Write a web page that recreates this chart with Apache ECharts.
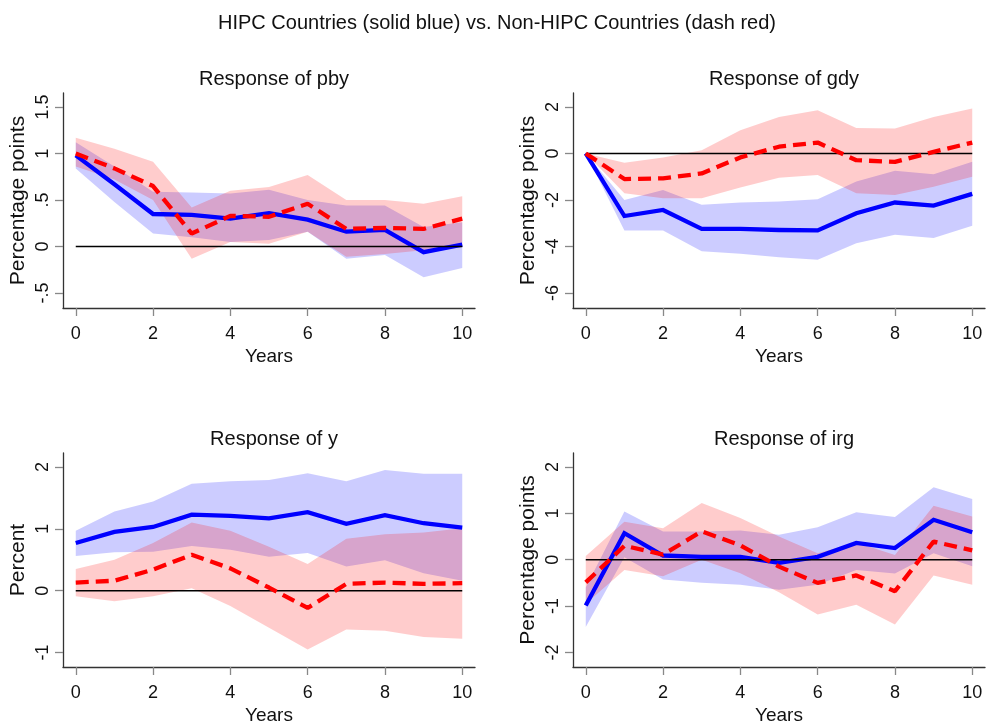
<!DOCTYPE html>
<html>
<head>
<meta charset="utf-8">
<title>HIPC vs Non-HIPC</title>
<script src="https://cdn.jsdelivr.net/npm/echarts@6/dist/echarts.min.js"></script>
<style>
    html, body { margin: 0; padding: 0; background: #fff; }
    #chart { width: 994px; height: 728px; }
</style>
</head>
<body>
<div id="chart"></div>
<script>
var years = [0, 1, 2, 3, 4, 5, 6, 7, 8, 9, 10];
var xTicks = [0, 2, 4, 6, 8, 10];

// pby
var pbyBlue   = [0.98, 0.67, 0.35, 0.34, 0.30, 0.36, 0.29, 0.16, 0.18, -0.06, 0.02];
var pbyBlueLo = [0.84, 0.48, 0.14, 0.10, 0.05, 0.07, 0.16, -0.13, -0.09, -0.33, -0.23];
var pbyBlueHi = [1.12, 0.86, 0.59, 0.58, 0.57, 0.61, 0.50, 0.44, 0.44, 0.21, 0.26];
var pbyRed    = [1.00, 0.84, 0.65, 0.14, 0.33, 0.32, 0.46, 0.19, 0.20, 0.19, 0.30];
var pbyRedLo  = [0.86, 0.72, 0.50, -0.13, 0.05, 0.03, 0.16, -0.11, -0.08, -0.04, 0.00];
var pbyRedHi  = [1.17, 1.05, 0.91, 0.42, 0.60, 0.64, 0.77, 0.50, 0.50, 0.46, 0.54];
var pbyTicks  = [-0.5, 0, 0.5, 1, 1.5];

// gdy
var gdyBlue   = [0, -2.69, -2.43, -3.24, -3.24, -3.29, -3.31, -2.57, -2.11, -2.24, -1.74];
var gdyBlueLo = [0, -3.31, -3.31, -4.21, -4.31, -4.46, -4.57, -3.86, -3.50, -3.64, -3.11];
var gdyBlueHi = [0, -2.00, -1.57, -2.21, -2.11, -2.07, -1.97, -1.21, -0.74, -0.89, -0.36];
var gdyRed    = [0, -1.10, -1.07, -0.86, -0.17, 0.29, 0.47, -0.29, -0.36, 0.07, 0.47];
var gdyRedLo  = [0, -1.71, -1.93, -1.93, -1.46, -1.04, -0.93, -1.71, -1.79, -1.43, -1.00];
var gdyRedHi  = [0, -0.40, -0.17, 0.14, 1.00, 1.57, 1.86, 1.10, 1.07, 1.57, 1.93];
var gdyTicks  = [-6, -4, -2, 0, 2];

// y
var yBlue   = [0.77, 0.95, 1.03, 1.23, 1.21, 1.17, 1.27, 1.08, 1.22, 1.09, 1.02];
var yBlueLo = [0.56, 0.62, 0.63, 0.72, 0.66, 0.55, 0.61, 0.39, 0.49, 0.28, 0.16];
var yBlueHi = [0.97, 1.28, 1.44, 1.73, 1.77, 1.79, 1.90, 1.77, 1.95, 1.89, 1.89];
var yRed    = [0.13, 0.16, 0.34, 0.58, 0.36, 0.05, -0.28, 0.11, 0.13, 0.11, 0.12];
var yRedLo  = [-0.09, -0.17, -0.09, 0.04, -0.25, -0.60, -0.95, -0.63, -0.65, -0.75, -0.78];
var yRedHi  = [0.35, 0.50, 0.77, 1.10, 0.97, 0.71, 0.43, 0.84, 0.91, 0.94, 1.01];
var yTicks  = [-1, 0, 1, 2];

// irg
var irgBlue   = [-0.99, 0.57, 0.09, 0.06, 0.06, -0.07, 0.06, 0.36, 0.25, 0.86, 0.59];
var irgBlueLo = [-1.45, 0.05, -0.43, -0.50, -0.54, -0.65, -0.54, -0.22, -0.30, 0.14, -0.14];
var irgBlueHi = [-0.60, 1.04, 0.61, 0.61, 0.63, 0.54, 0.70, 1.02, 0.92, 1.56, 1.31];
var irgRed    = [-0.49, 0.30, 0.11, 0.61, 0.31, -0.15, -0.50, -0.34, -0.68, 0.39, 0.20];
var irgRedLo  = [-0.95, -0.22, -0.36, 0.00, -0.29, -0.70, -1.18, -0.97, -1.40, -0.34, -0.54];
var irgRedHi  = [0.08, 0.82, 0.68, 1.22, 0.90, 0.50, 0.14, 0.37, 0.10, 1.16, 0.93];
var irgTicks  = [-2, -1, 0, 1, 2];

var FONT = 'Liberation Sans, Arial, sans-serif';

var panels = [
    { title: 'Response of pby', yName: 'Percentage points', ticks: pbyTicks, min: -0.66, max: 1.65,
      grid: { left: 63, top: 93, width: 412, height: 215 },
      blue: pbyBlue, blueLo: pbyBlueLo, blueHi: pbyBlueHi, red: pbyRed, redLo: pbyRedLo, redHi: pbyRedHi },
    { title: 'Response of gdy', yName: 'Percentage points', ticks: gdyTicks, min: -6.645, max: 2.6,
      grid: { left: 573, top: 93, width: 412, height: 215 },
      blue: gdyBlue, blueLo: gdyBlueLo, blueHi: gdyBlueHi, red: gdyRed, redLo: gdyRedLo, redHi: gdyRedHi },
    { title: 'Response of y', yName: 'Percent', ticks: yTicks, min: -1.235, max: 2.226,
      grid: { left: 63, top: 453, width: 412, height: 214 },
      blue: yBlue, blueLo: yBlueLo, blueHi: yBlueHi, red: yRed, redLo: yRedLo, redHi: yRedHi },
    { title: 'Response of irg', yName: 'Percentage points', ticks: irgTicks, min: -2.314, max: 2.3,
      grid: { left: 573, top: 453, width: 412, height: 214 },
      blue: irgBlue, blueLo: irgBlueLo, blueHi: irgBlueHi, red: irgRed, redLo: irgRedLo, redHi: irgRedHi }
];

function zip(a) {
    return years.map(function (x, k) { return [x, a[k]]; });
}

// confidence band as one polygon through the axis scales
function band(i, lo, hi, color) {
    return {
        type: 'custom',
        xAxisIndex: i,
        yAxisIndex: i,
        data: years.map(function (x, k) { return [x, lo[k], hi[k]]; }),
        encode: { x: 0, y: [1, 2] },
        silent: true,
        renderItem: function (params, api) {
            if (params.dataIndexInside !== 0) return null;
            var n = params.dataInsideLength;
            var pts = [];
            for (var k = 0; k < n; k++) pts.push(api.coord([api.value(0, k), api.value(2, k)]));
            for (var k = n - 1; k >= 0; k--) pts.push(api.coord([api.value(0, k), api.value(1, k)]));
            return { type: 'polygon', shape: { points: pts }, style: { fill: color } };
        }
    };
}

function yLabel(v) {
    return String(v).replace('0.', '.');
}

var option = {
    animation: false,
    textStyle: { fontFamily: FONT },
    title: [{
        text: 'HIPC Countries (solid blue) vs. Non-HIPC Countries (dash red)',
        left: 'center', top: 8,
        textStyle: { fontFamily: FONT, fontSize: 20, fontWeight: 'normal', color: '#111' }
    }],
    grid: [],
    xAxis: [],
    yAxis: [],
    series: []
};

panels.forEach(function (p, i) {
    option.title.push({
        text: p.title,
        left: p.grid.left + p.grid.width / 2,
        textAlign: 'center',
        top: p.grid.top - 29,
        textStyle: { fontFamily: FONT, fontSize: 20, fontWeight: 'normal', color: '#111' }
    });
    option.grid.push(p.grid);
    option.xAxis.push({
        type: 'value', gridIndex: i, min: -0.33, max: 10.33,
        name: 'Years', nameLocation: 'middle', nameGap: 39,
        nameTextStyle: { fontSize: 19, color: '#111', fontFamily: FONT },
        axisLine: { show: true, onZero: false, lineStyle: { color: '#333', width: 1.3 } },
        axisTick: { show: true, customValues: xTicks, length: 8, lineStyle: { color: '#888', width: 1.3 } },
        axisLabel: { customValues: xTicks, fontSize: 18, color: '#111', margin: 17 },
        splitLine: { show: false }
    });
    option.yAxis.push({
        type: 'value', gridIndex: i, min: p.min, max: p.max,
        name: p.yName, nameLocation: 'middle', nameGap: 34, nameRotate: 90,
        nameTextStyle: { fontSize: 21, color: '#111', fontFamily: FONT },
        axisLine: { show: true, onZero: false, lineStyle: { color: '#333', width: 1.3 } },
        axisTick: { show: true, customValues: p.ticks, length: 8, lineStyle: { color: '#888', width: 1.3 } },
        axisLabel: { customValues: p.ticks, rotate: 90, fontSize: 18, color: '#111', margin: 11, formatter: yLabel },
        splitLine: { show: false }
    });

    option.series.push(band(i, p.blueLo, p.blueHi, 'rgba(0,0,255,0.2)'));
    option.series.push({
        type: 'line', xAxisIndex: i, yAxisIndex: i, data: zip(p.blue),
        showSymbol: false, silent: true,
        lineStyle: { color: '#0000ff', width: 4.3, join: 'miter' }
    });
    option.series.push(band(i, p.redLo, p.redHi, 'rgba(255,0,0,0.2)'));
    option.series.push({
        type: 'line', xAxisIndex: i, yAxisIndex: i, data: [[0, 0], [10, 0]],
        showSymbol: false, silent: true,
        lineStyle: { color: '#000', width: 1.5 }
    });
    option.series.push({
        type: 'line', xAxisIndex: i, yAxisIndex: i, data: zip(p.red),
        showSymbol: false, silent: true,
        lineStyle: { color: '#ff0000', width: 4.3, type: [13, 7], cap: 'butt' }
    });
});

var chart = echarts.init(document.getElementById('chart'));
chart.setOption(option);
</script>
</body>
</html>
